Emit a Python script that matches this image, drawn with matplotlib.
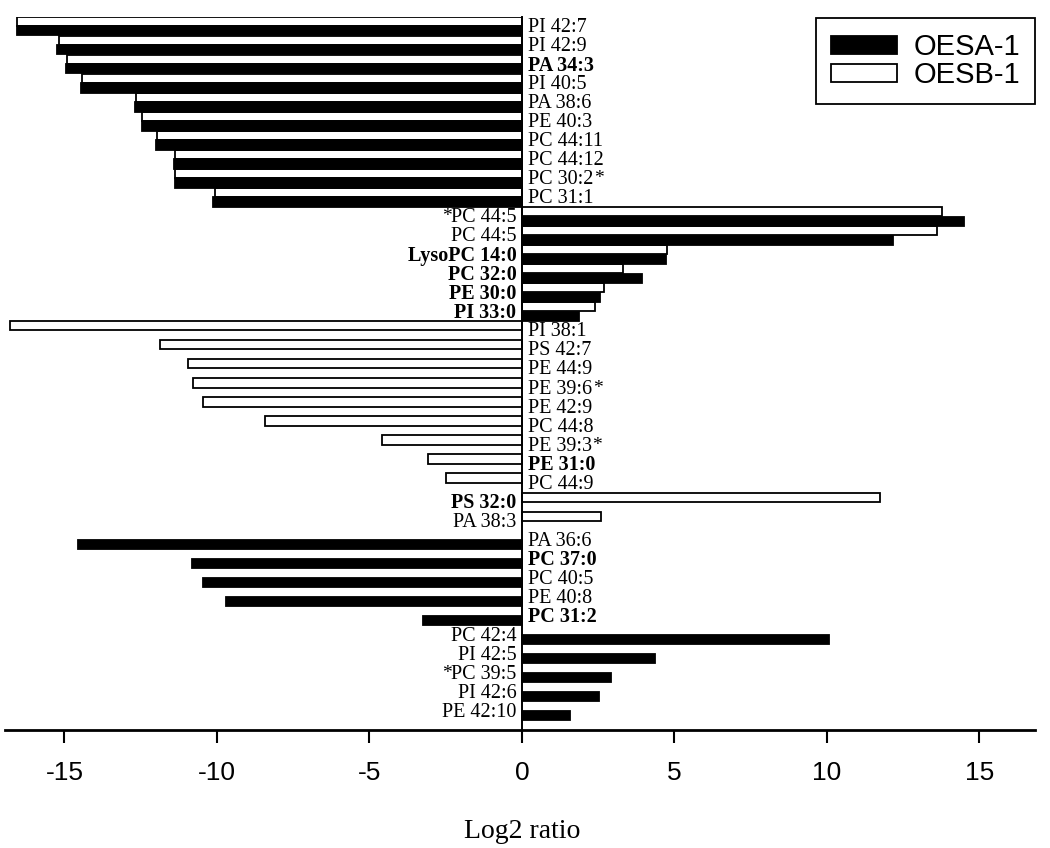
import numpy as np
import matplotlib
matplotlib.use("Agg")
import matplotlib.pyplot as plt

# rows top to bottom; '*' before/after marks the raised asterisk
labels = ["PI 42:7", "PI 42:9", "PA 34:3", "PI 40:5", "PA 38:6", "PE 40:3",
          "PC 44:11", "PC 44:12", "PC 30:2*", "PC 31:1",
          "*PC 44:5", "PC 44:5", "LysoPC 14:0", "PC 32:0", "PE 30:0", "PI 33:0",
          "PI 38:1", "PS 42:7", "PE 44:9", "PE 39:6*", "PE 42:9", "PC 44:8",
          "PE 39:3*", "PE 31:0", "PC 44:9", "PS 32:0", "PA 38:3",
          "PA 36:6", "PC 37:0", "PC 40:5", "PE 40:8", "PC 31:2",
          "PC 42:4", "PI 42:5", "*PC 39:5", "PI 42:6", "PE 42:10"]

bold = ["PA 34:3", "LysoPC 14:0", "PC 32:0", "PE 30:0", "PI 33:0",
        "PE 31:0", "PS 32:0", "PC 37:0", "PC 31:2"]

nan = np.nan
oesa = [-16.57, -15.23, -14.96, -14.45, -12.68, -12.47, -11.99, -11.40, -11.37, -10.12,
        14.50, 12.15, 4.71, 3.95, 2.56, 1.87,
        nan, nan, nan, nan, nan, nan, nan, nan, nan, nan, nan,
        -14.57, -10.82, -10.46, -9.71, -3.26,
        10.07, 4.36, 2.93, 2.51, 1.56]

oesb = [-16.55, -15.19, -14.93, -14.42, -12.64, -12.45, -11.96, -11.39, -11.36, -10.07,
        13.77, 13.60, 4.77, 3.30, 2.69, 2.39,
        -16.80, -11.87, -10.95, -10.77, -10.46, -8.43, -4.58, -3.07, -2.50, 11.74, 2.58,
        nan, nan, nan, nan, nan,
        nan, nan, nan, nan, nan]

xticks = [-15, -10, -5, 0, 5, 10, 15]

oesa = np.array(oesa)
oesb = np.array(oesb)
y = np.arange(len(labels))

fig = plt.figure(figsize=(10.5, 8.48), dpi=100)
ax = fig.add_axes([5/1050, 118/848, 1030/1050, 713.3/848])

h = 0.48
ax.barh(y - 0.245, oesb, height=h, color='white', edgecolor='black', linewidth=1.3, label='OESB-1')
ax.barh(y + 0.245, oesa, height=h, color='black', edgecolor='black', linewidth=1.3, label='OESA-1')

ax.set_xlim(-16.95, 16.82)
ax.set_ylim(len(labels), -0.5)

texts = []
for i, lab in enumerate(labels):
    vals = [v for v in (oesa[i], oesb[i]) if not np.isnan(v)]
    right_side = max(vals) < 0
    t = ax.annotate(lab.strip('*'), xy=(0, i), xytext=(4 if right_side else -4, -1),
                    textcoords='offset points', ha='left' if right_side else 'right',
                    va='center', fontsize=14.5, family='Liberation Serif',
                    fontweight='bold' if lab in bold else 'normal')
    texts.append((lab, t))

# asterisks next to labels, raised
fig.canvas.draw()
renderer = fig.canvas.get_renderer()
for lab, t in texts:
    if '*' not in lab:
        continue
    bb = t.get_window_extent(renderer)
    yc = (bb.y0 + bb.y1) / 2 + 1
    if lab.startswith('*'):
        ax.annotate('*', xy=(bb.x0 + 1, yc), xycoords='figure pixels', ha='right', va='center',
                    fontsize=14, family='Liberation Serif')
    else:
        ax.annotate('*', xy=(bb.x1 + 1, yc), xycoords='figure pixels', ha='left', va='center',
                    fontsize=14, family='Liberation Serif')

for s in ['top', 'right']:
    ax.spines[s].set_visible(False)
ax.spines['left'].set_position(('data', 0))
ax.spines['left'].set_linewidth(1.4)
ax.spines['bottom'].set_linewidth(2)
ax.set_yticks([])
ax.set_xticks(xticks)
ax.set_xticklabels([str(t) for t in xticks], family='Liberation Sans', fontsize=19)
ax.tick_params(axis='x', direction='out', length=9, width=1.5, pad=13)

fig.text(522/1050, 1 - 831/848, "Log2 ratio", ha='center', va='center',
         family='Liberation Serif', fontsize=20)

handles, labs = ax.get_legend_handles_labels()
leg = ax.legend(handles[::-1], labs[::-1], loc='upper right',
                bbox_to_anchor=(1035/1050, 1 - 18/848), bbox_transform=fig.transFigure,
                prop={'family': 'Liberation Sans', 'size': 21}, frameon=True, fancybox=False,
                edgecolor='black', framealpha=1, borderpad=0.52, handlelength=2.28,
                handleheight=0.55, handletextpad=0.55, labelspacing=0.0, borderaxespad=0)
leg.get_frame().set_linewidth(1.3)

fig.savefig("out.png", dpi=100)
